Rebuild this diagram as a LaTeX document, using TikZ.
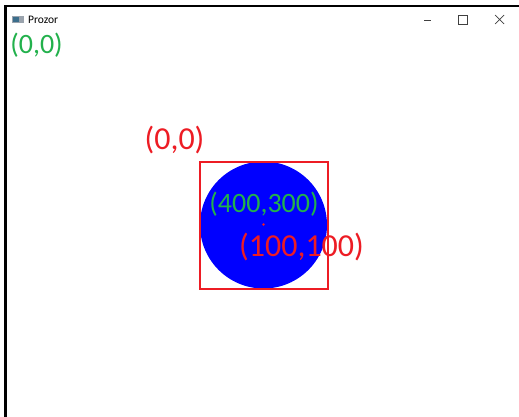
\documentclass[tikz,border=0pt]{standalone}
\usepackage{fontspec}
\setmainfont{Carlito}
\usetikzlibrary{positioning}
\definecolor{PaintGreen}{HTML}{22B14C}
\definecolor{PaintRed}{HTML}{ED1C24}
\definecolor{PureBlue}{HTML}{0000FF}
\definecolor{IconGrey}{HTML}{9AA3AD}
\definecolor{IconBlue}{HTML}{3C6E8C}

\begin{document}
\begin{tikzpicture}[
    x=1pt,y=-1pt,
    every node/.style={inner sep=0pt},
    greenlabel/.style={text=PaintGreen,font=\fontsize{28}{31}\selectfont},
    redlabel/.style={text=PaintRed,font=\fontsize{32}{35}\selectfont},
    frame/.style={line width=2.5pt,black},
    ctrl/.style={draw=black!75,line width=0.7pt}
  ]
    \useasboundingbox (0,0) rectangle (519,417);
    \fill[white] (0,0) rectangle (519,417);
    % window frame and title bar
    \draw[frame] (5.5,417) -- (5.5,6) -- (519,6);
    \fill[IconGrey] (12,16) rectangle (24,23);
    \fill[IconBlue] (13,17) rectangle (19,22);
    \node[anchor=base west,font=\fontsize{11.5}{13}\selectfont] (title) at (28,23.5) {Prozor};
    \draw[ctrl] (424,20.5) -- (431,20.5);
    \draw[ctrl] (458.5,15.5) rectangle (467.5,24.5);
    \draw[ctrl] (495,15) -- (504,24) (504,15) -- (495,24);
    % shapes
    \fill[PureBlue] (263.5,225) circle (63.5);
    \draw[PaintRed,line width=2pt] (199.5,161.5) rectangle (327.5,288.5);
    \fill[PaintRed] (263.5,224.5) circle (1.3);
    % labels
    \node[greenlabel] (origin) at (36.5,45.5) {(0,0)};
    \node[redlabel] (rectorigin) at (174.5,140.5) {(0,0)};
    \node[greenlabel] (centre) at (264,204) {(400,300)};
    \node[redlabel] (size) at (301.5,247) {(100,100)};
  \end{tikzpicture}
\end{document}
